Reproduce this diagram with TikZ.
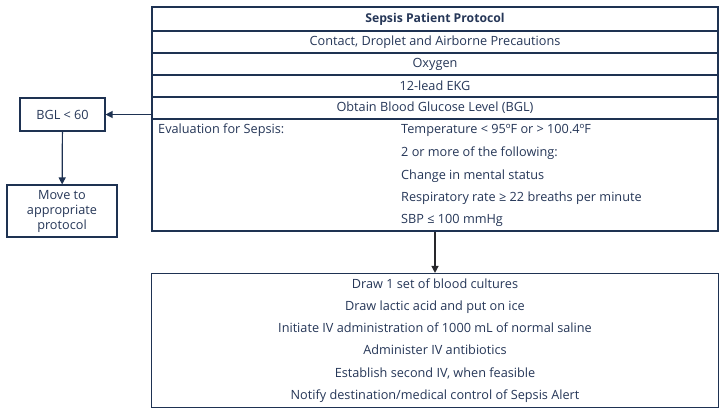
\documentclass[tikz,border=0pt]{standalone}
\usepackage{fontspec}
\setmainfont{Open Sans}
\usetikzlibrary{arrows.meta,positioning,calc}
\definecolor{inkNavy}{RGB}{30, 50, 82}
\definecolor{inkText}{RGB}{38, 55, 88}
\definecolor{inkDark}{RGB}{40, 40, 44}

\begin{document}
\begin{tikzpicture}[
        x=1pt, y=-1pt,
        every node/.style={text=inkText, font=\fontsize{12.7pt}{15pt}\selectfont},
        row/.style={draw=inkNavy, fill=white, line width=1.1pt, minimum width=566pt, minimum height=22pt, inner sep=0pt},
        block/.style={draw=inkNavy, fill=white, line width=1.1pt, align=center, inner sep=0pt},
        txt/.style={anchor=west, inner sep=0pt, text height=9pt, text depth=3pt},
        arr/.style={-{Triangle[length=7pt, width=7pt]}, line width=1.2pt, color=inkNavy}
    ]
        \useasboundingbox (0,0) rectangle (726,415);

        % Protocol table
        \node[row, minimum height=24pt, font=\fontsize{12.2pt}{15pt}\selectfont\bfseries] (title) at (435,19) {Sepsis Patient Protocol};
        \node[row] (precaution) at (435,42) {Contact, Droplet and Airborne Precautions};
        \node[row] (oxygen) at (435,64) {Oxygen};
        \node[row] (ekg) at (435,86) {12-lead EKG};
        \node[row] (bgl) at (435,108) {Obtain Blood Glucose Level (BGL)};
        \node[row, minimum height=112pt] (eval) at (435,175) {};
        \node[txt] (evalhead) at (158,130) {Evaluation for Sepsis:};
        \node[txt] (temp) at (401,130) {Temperature < 95ºF or > 100.4ºF};
        \node[txt] (twomore) at (401,153) {2 or more of the following:};
        \node[txt] (mental) at (401,176) {Change in mental status};
        \node[txt] (resp) at (401,198) {Respiratory rate ≥ 22 breaths per minute};
        \node[txt] (sbp) at (401,220) {SBP ≤ 100 mmHg};

        % Low glucose branch
        \node[block, minimum width=85pt, minimum height=33pt] (low) at (62.5,114.5) {BGL < 60};
        \node[block, minimum width=110pt, minimum height=52pt, font=\fontsize{12.7pt}{15pt}\selectfont] (move) at (62,211) {Move to\\appropriate\\protocol};
        \draw[arr] (eval.west |- low.east) -- (low.east);
        \draw[arr] (low) -- (move);

        % Actions
        \node[block, minimum width=567pt, minimum height=134pt, font=\fontsize{12.7pt}{22.3pt}\selectfont] (actions) at (435,340.5) {Draw 1 set of blood cultures\\Draw lactic acid and put on ice\\Initiate IV administration of 1000 mL of normal saline\\Administer IV antibiotics\\Establish second IV, when feasible\\Notify destination/medical control of Sepsis Alert};
        \draw[arr, color=inkDark] (eval) -- (actions);
    \end{tikzpicture}
\end{document}
